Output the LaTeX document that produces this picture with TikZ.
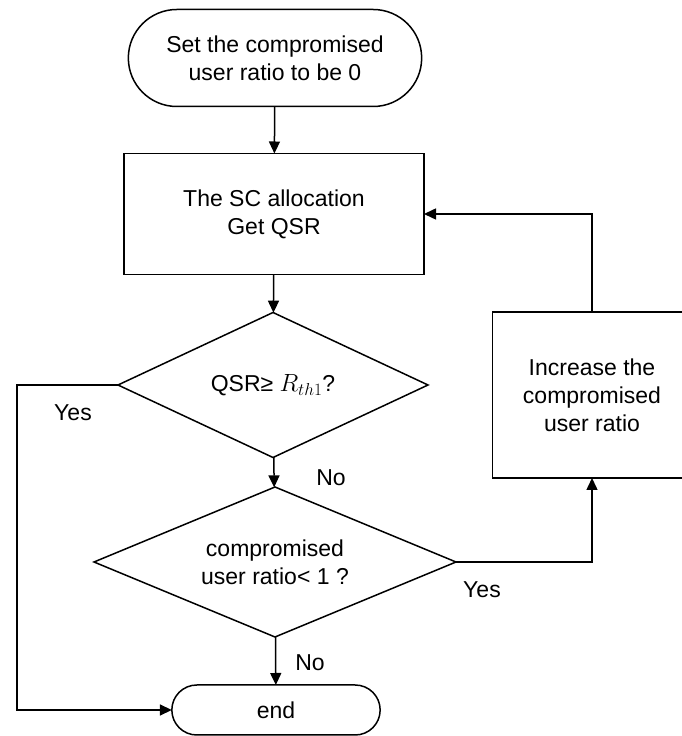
\documentclass[tikz,border=0pt]{standalone}
\usepackage{fontspec}
\setmainfont{Liberation Sans}
\usetikzlibrary{shapes.geometric,shapes.misc,arrows.meta}

\tikzset{
	terminal/.style={draw,rounded rectangle,line width=1.5pt,outer sep=0pt,align=center},
	block/.style={draw,rectangle,line width=1.5pt,outer sep=0pt,align=center},
	decision/.style={draw,diamond,line width=1.5pt,outer sep=0pt,inner sep=0pt,align=center},
	pfeil/.style={line width=1.5pt,-{Triangle[length=12pt,width=11pt]}},
	beschr/.style={inner sep=0pt}
}

\begin{document}
\begin{tikzpicture}[x=1pt,y=1pt,font=\fontsize{23}{28}\selectfont]
\useasboundingbox (0,0) rectangle (681,736);
%%% Knoten
	\node[terminal,minimum width=300pt,minimum height=97pt] (anfang) at (275,678) {Set the compromised\\user ratio to be 0};
	\node[block,minimum width=300pt,minimum height=121pt] (sc) at (274,522) {The SC allocation\\Get QSR};
	\node[decision,shape aspect=2.1,minimum width=310pt,minimum height=145pt] (qsr) at (273,351) {QSR≥ $R_{th1}$?};
	\node[decision,shape aspect=2.4,minimum width=362pt,minimum height=150pt] (ratio) at (275,174) {compromised\\user ratio< 1 ?};
	\node[terminal,minimum width=215pt,minimum height=50pt] (ende) at (276,26) {end};
%%% Kasten rechts, rechte Kante liegt ausserhalb des Bildes
	\node[block,draw=none,minimum width=199pt,minimum height=166pt] (erhoehen) at (592,341) {Increase the\\compromised\\user ratio};
	\draw[line width=1.5pt] (erhoehen.north east) -- (erhoehen.north west) -- (erhoehen.south west) -- (erhoehen.south east);
%%% Pfeile
	\draw[pfeil] (anfang) -- (sc);
	\draw[pfeil] (sc) -- (qsr);
	\draw[pfeil] (qsr) -- (ratio);
	\draw[pfeil] (ratio) -- (ende);
	\draw[pfeil] (qsr.west) -- ++(-101,0) |- (ende.west);
	\draw[pfeil] (ratio.east) -| (erhoehen.south);
	\draw[pfeil] (erhoehen.north) |- (sc.east);
%%% Beschriftung
	\node[beschr] (ja1) at (73,323) {Yes};
	\node[beschr] (nein1) at (331,258) {No};
	\node[beschr] (ja2) at (482,146) {Yes};
	\node[beschr] (nein2) at (310,73) {No};
\end{tikzpicture}
\end{document}
